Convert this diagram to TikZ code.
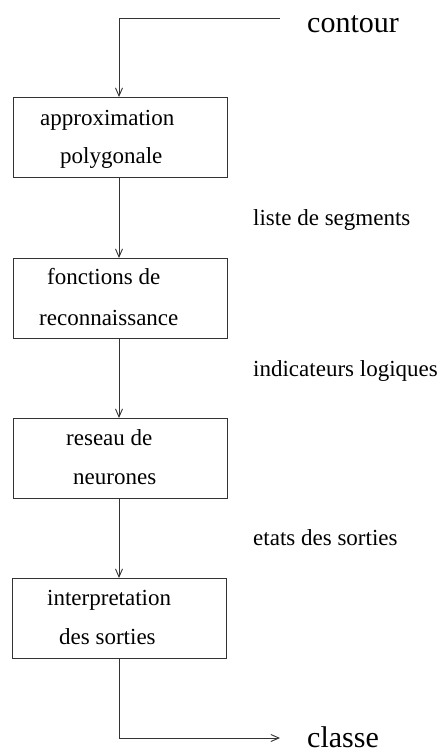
\documentclass[tikz,border=0pt]{standalone}
\usepackage{fontspec}
\setmainfont{Liberation Serif}
\usetikzlibrary{arrows.meta}
\tikzset{
  box/.style={draw=black!80, line width=0.9pt, minimum width=214pt, minimum height=80pt, inner sep=0pt, anchor=north west},
  txt/.style={anchor=base west, inner sep=0pt, font=\fontsize{23}{23}\selectfont},
  big/.style={anchor=base west, inner sep=0pt, font=\fontsize{30}{30}\selectfont},
  conn/.style={draw=black!80, line width=0.9pt, -{Straight Barb[length=8pt,width=7pt]}}
}
\begin{document}
\begin{tikzpicture}[x=1pt,y=-1pt]
\useasboundingbox (0,0) rectangle (440,753);
% boxes
\node[box] (b1) at (13,97) {};
\node[box] (b2) at (13,258) {};
\node[box] (b3) at (13,418) {};
\node[box] (b4) at (12,578) {};
% box texts
\node[txt] (t1a) at (40,125) {approximation};
\node[txt] (t1b) at (60,163) {polygonale};
\node[txt] (t2a) at (47,284) {fonctions de};
\node[txt] (t2b) at (39,325) {reconnaissance};
\node[txt] (t3a) at (66,445) {reseau de};
\node[txt] (t3b) at (73,484) {neurones};
\node[txt] (t4a) at (47,605) {interpretation};
\node[txt] (t4b) at (59,644) {des sorties};
% labels
\node[txt] (l1) at (253,225) {liste de segments};
\node[txt] (l2) at (253,376) {indicateurs logiques};
\node[txt] (l3) at (253,545) {etats des sorties};
\node[big] (in) at (307,32) {contour};
\node[big] (out) at (307,747) {classe};
% connectors
\coordinate (cin) at (280,18);
\coordinate (cout) at (280,738);
\draw[conn] (cin) -| (b1.north -| 119,0);
\draw[conn] (b1.south -| 119,0) -- (b2.north -| 119,0);
\draw[conn] (b2.south -| 119,0) -- (b3.north -| 119,0);
\draw[conn] (b3.south -| 119,0) -- (b4.north -| 119,0);
\draw[conn] (b4.south -| 119,0) |- (cout);
\end{tikzpicture}
\end{document}
